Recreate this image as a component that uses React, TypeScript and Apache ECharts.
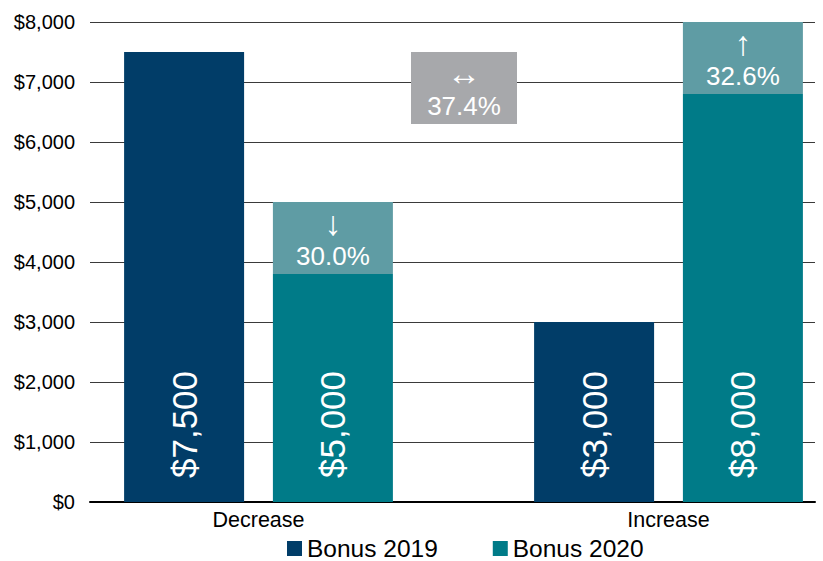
import React, { useEffect, useRef } from 'react';
import * as echarts from 'echarts';

const categories = ['Decrease', 'Increase'];
const bonus2019 = [7500, 3000];
const bonus2020 = [5000, 8000];
const changeBand = [1200, 1200];
const changeArrows = ['↓', '↑'];
const changePct = ['30.0%', '32.6%'];
const gapBandBase = [6300];
const gapBandSize = [1200];
const gapArrow = '↔';
const gapPct = '37.4%';
const yMin = 0;
const yMax = 8000;
const yInterval = 1000;

const NAVY = '#013d68';
const TEAL = '#007b88';
const LIGHT_TEAL = '#5f9ca4';
const GRAY = '#a7a8ab';
const FONT = '"Liberation Sans", Arial, sans-serif';

const money = (v: number) => '$' + v.toLocaleString('en-US');

export default function App() {
  const ref = useRef<HTMLDivElement>(null);
  useEffect(() => {
    if (!ref.current) return;
    const chart = echarts.init(ref.current, undefined, { renderer: 'svg' });
    const grids = [
      { left: 90, right: 8, top: 22, bottom: 59, outerBoundsMode: 'none' },
      { left: 53.5, width: 820, top: 22, bottom: 59, outerBoundsMode: 'none' },
      { left: 411, width: 106, top: 22, bottom: 59, outerBoundsMode: 'none' },
    ];
    const hiddenY = (gi: number) => ({
      type: 'value', gridIndex: gi, min: yMin, max: yMax, interval: yInterval,
      show: false,
    });
    const valueLabel = {
      show: true,
      position: 'insideBottom',
      rotate: 90,
      align: 'left',
      verticalAlign: 'middle',
      distance: 24,
      color: '#ffffff',
      fontSize: 35,
      fontFamily: FONT,
    };
    const changeRich = {
      arrow: { fontSize: 34, lineHeight: 35, color: '#ffffff', fontFamily: FONT },
      pct: { fontSize: 26, lineHeight: 30, color: '#ffffff', fontFamily: FONT },
    };
    chart.setOption({
      animation: false,
      textStyle: { fontFamily: FONT },
      grid: grids,
      xAxis: [
        {
          type: 'category', gridIndex: 0, data: categories,
          axisLine: { show: true, lineStyle: { color: '#000', width: 2 } },
          axisTick: { show: false }, axisLabel: { show: false }, splitLine: { show: false },
        },
        {
          type: 'category', gridIndex: 1, data: categories,
          axisLine: { show: false }, axisTick: { show: false },
          axisLabel: { color: '#000', fontSize: 21.5, margin: 7, fontFamily: FONT },
        },
        { type: 'category', gridIndex: 2, data: ['gap'], show: false },
      ],
      yAxis: [
        {
          type: 'value', gridIndex: 0, min: yMin, max: yMax, interval: yInterval,
          axisLine: { show: false }, axisTick: { show: false },
          axisLabel: { color: '#000', fontSize: 20, margin: 15, fontFamily: FONT, formatter: (v: number) => money(v) },
          splitLine: { show: true, lineStyle: { color: '#3a3a3a', width: 1.2 } },
        },
        hiddenY(1),
        hiddenY(2),
      ],
      legend: {
        data: ['Bonus 2019', 'Bonus 2020'],
        top: 536,
        left: 287,
        padding: 0,
        icon: 'rect',
        itemWidth: 15,
        itemHeight: 15,
        itemGap: 55,
        textStyle: { color: '#000', fontSize: 24.5, lineHeight: 24, fontFamily: FONT },
      },
      series: [
        {
          name: 'Bonus 2019', type: 'bar', xAxisIndex: 1, yAxisIndex: 1,
          data: bonus2019, barWidth: 120, barGap: '24%',
          itemStyle: { color: NAVY },
          label: { ...valueLabel, formatter: (p: any) => money(bonus2019[p.dataIndex]) },
        },
        {
          name: 'Bonus 2020', type: 'bar', xAxisIndex: 1, yAxisIndex: 1, stack: 'b2020',
          data: bonus2020.map((v, i) => v - changeBand[i]), barWidth: 120, barGap: '24%',
          itemStyle: { color: TEAL },
          label: { ...valueLabel, formatter: (p: any) => money(bonus2020[p.dataIndex]) },
        },
        {
          name: 'Change', type: 'bar', xAxisIndex: 1, yAxisIndex: 1, stack: 'b2020',
          data: changeBand, barWidth: 120, barGap: '24%',
          itemStyle: { color: LIGHT_TEAL },
          label: {
            show: true, position: 'inside',
            formatter: (p: any) => `{arrow|${changeArrows[p.dataIndex]}}\n{pct|${changePct[p.dataIndex]}}`,
            rich: changeRich,
          },
        },
        {
          name: 'GapBase', type: 'bar', xAxisIndex: 2, yAxisIndex: 2, stack: 'gap',
          data: gapBandBase, barWidth: '100%',
          itemStyle: { color: 'transparent' }, silent: true,
        },
        {
          name: 'Gap', type: 'bar', xAxisIndex: 2, yAxisIndex: 2, stack: 'gap',
          data: gapBandSize, barWidth: '100%',
          itemStyle: { color: GRAY },
          label: {
            show: true, position: 'inside',
            formatter: () => `{arrow|${gapArrow}}\n{pct|${gapPct}}`,
            rich: changeRich,
          },
        },
      ],
    });
    return () => chart.dispose();
  }, []);
  return <div ref={ref} style={{ width: 823, height: 561, position: 'absolute', left: 0, top: 0 }} />;
}
